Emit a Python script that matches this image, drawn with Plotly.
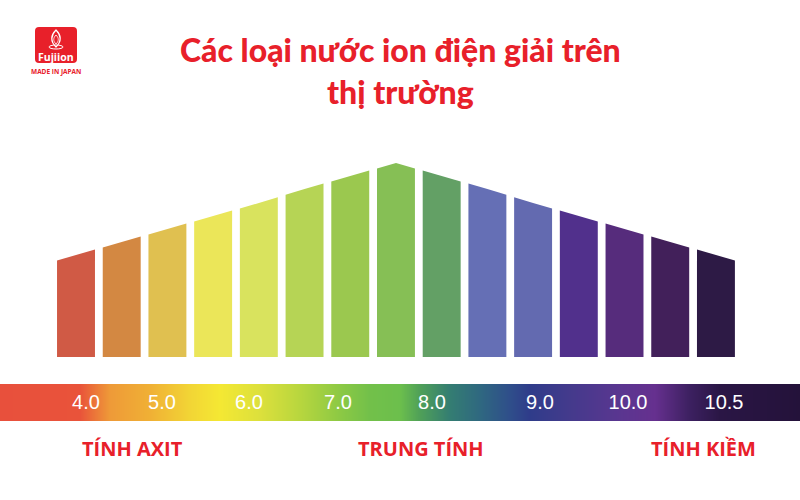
import numpy as np
import plotly.graph_objects as go

# ---------------- data ----------------
bar_levels = list(range(15))  # bar index (ion water types, acid -> alkaline)
bar_heights = [102, 115, 128, 141, 154, 168, 181, 194, 181, 168, 154, 141, 128, 115, 102]
bar_colors = ["#D05A45", "#D38842", "#E0C050", "#EBE659", "#D9E35E", "#B6D455", "#9BC84F",
              "#86BF55", "#63A065", "#656FB5", "#636AB0", "#51308C", "#562C7C", "#42205A", "#2D1A45"]

scale_labels = ["4.0", "5.0", "6.0", "7.0", "8.0", "9.0", "10.0", "10.5"]
scale_label_pos = [86, 162, 249, 338, 432, 540, 628, 724]

zone_labels = ["TÍNH AXIT", "TRUNG TÍNH", "TÍNH KIỀM"]
zone_label_pos = [132, 421, 703]

gradient_stops = [
    (0, "#E8503C"), (80, "#E9533A"), (110, "#EE9A38"), (150, "#F0B035"), (190, "#F2D535"),
    (220, "#F4E833"), (260, "#DCE03C"), (300, "#B8D63E"), (340, "#8CC944"), (370, "#72C04A"),
    (400, "#6CBF4C"), (420, "#4FA058"), (450, "#347D72"), (480, "#2F6880"), (510, "#2F4E8A"),
    (530, "#2F3C8A"), (570, "#443A8C"), (620, "#5A3690"), (655, "#66308F"), (690, "#3C2060"),
    (720, "#2A1645"), (800, "#24123A"),
]

title_lines = ["Các loại nước ion điện giải trên", "thị trường"]
RED = "#E8202A"

fig = go.Figure()

# ---------------- bars with slanted tops ----------------
hw = 0.415
xi = np.array(bar_levels, dtype=float)
hv = np.array(bar_heights, dtype=float)
xp = np.concatenate([[xi[0] - 1], xi, [xi[-1] + 1]])
hp = np.concatenate([[2 * hv[0] - hv[1]], hv, [2 * hv[-1] - hv[-2]]])
for x, h, c in zip(xi, hv, bar_colors):
    tl = float(np.interp(x - hw, xp, hp))
    tr = float(np.interp(x + hw, xp, hp))
    fig.add_trace(go.Scatter(
        x=[x - hw, x - hw, x, x + hw, x + hw, x - hw],
        y=[0, tl, h, tr, 0, 0],
        fill="toself", fillcolor=c, mode="lines", line=dict(width=0, color=c),
        hoverinfo="skip", showlegend=False, xaxis="x", yaxis="y"))

# ---------------- gradient scale ----------------
npx = 800
edges = np.linspace(0, 800, npx + 1)
centers = (edges[:-1] + edges[1:]) / 2
cs = [[p / 800, col] for p, col in gradient_stops]
fig.add_trace(go.Heatmap(
    x=edges, y=[384, 421], z=[centers], colorscale=cs, zmin=0, zmax=800,
    showscale=False, hoverinfo="skip", xaxis="x2", yaxis="y2"))
fig.add_trace(go.Scatter(
    x=scale_label_pos, y=[404] * len(scale_labels), text=scale_labels, mode="text",
    textfont=dict(color="white", size=20, family="Liberation Sans"),
    hoverinfo="skip", showlegend=False, xaxis="x2", yaxis="y2"))

# ---------------- zone labels ----------------
for lab, px in zip(zone_labels, zone_label_pos):
    fig.add_annotation(x=px, y=448, xref="x2", yref="y2", text=f"<b>{lab}</b>",
                       showarrow=False, font=dict(color=RED, size=20, family="Open Sans"))

# ---------------- title ----------------
fig.add_annotation(x=400, y=70, xref="x2", yref="y2", text="<br>".join(title_lines),
                   showarrow=False, font=dict(color=RED, size=32, family="Lato", weight=900))

# ---------------- logo ----------------
fig.add_shape(type="path", xref="x2", yref="y2",
              path="M 39 27 L 73 27 Q 77 27 77 31 L 77 59 Q 77 63 73 63 L 39 63 Q 35 63 35 59 L 35 31 Q 35 27 39 27 Z",
              fillcolor=RED, line=dict(width=0))
fig.add_shape(type="path", xref="x2", yref="y2",
              path="M 56 30 C 51 35 50 41 56 47 C 62 41 61 35 56 30 Z",
              fillcolor="rgba(0,0,0,0)", line=dict(color="white", width=1.2))
fig.add_shape(type="path", xref="x2", yref="y2",
              path="M 56 35 C 53 38 53 41 56 44 C 59 41 59 38 56 35 Z",
              fillcolor="rgba(0,0,0,0)", line=dict(color="white", width=0.8))
fig.add_shape(type="circle", xref="x2", yref="y2", x0=49, x1=63, y0=45, y1=49,
              line=dict(color="white", width=1))
fig.add_annotation(x=56, y=57, xref="x2", yref="y2", text="<b>Fujiion</b>", showarrow=False,
                   font=dict(color="white", size=10.5, family="Open Sans"))
fig.add_annotation(x=56, y=71, xref="x2", yref="y2", text="<b>MADE IN JAPAN</b>", showarrow=False,
                   font=dict(color=RED, size=6.5, family="Open Sans"))

# ---------------- layout ----------------
fig.update_layout(
    width=800, height=500, margin=dict(l=0, r=0, t=0, b=0),
    paper_bgcolor="white", plot_bgcolor="rgba(0,0,0,0)", showlegend=False,
    xaxis=dict(domain=[0, 1], range=[-76 / 45.71, (800 - 76) / 45.71], visible=False, fixedrange=True),
    yaxis=dict(domain=[0, 1], range=[-143, 357], visible=False, fixedrange=True),
    xaxis2=dict(domain=[0, 1], range=[0, 800], visible=False, anchor="y2", overlaying="x", fixedrange=True),
    yaxis2=dict(domain=[0, 1], range=[500, 0], visible=False, anchor="x2", overlaying="y", fixedrange=True),
)

fig.write_html("out.html", config={"displayModeBar": False},
               post_script="document.body.style.margin='0';")
